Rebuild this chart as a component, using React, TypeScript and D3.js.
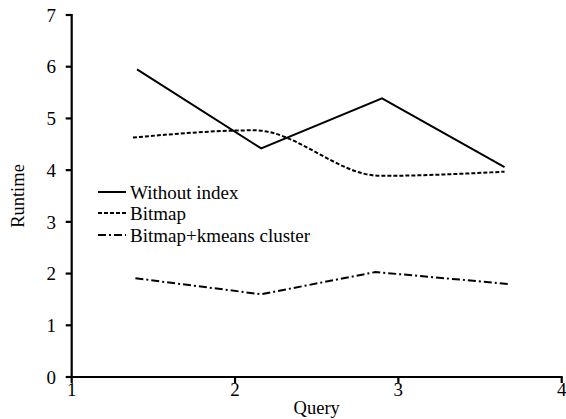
import React from "react";
import * as d3 from "d3";

const seriesNames = ["Without index", "Bitmap", "Bitmap+kmeans cluster"];
const withoutIndexX = [1.4, 2.16, 2.9, 3.65];
const withoutIndexY = [5.95, 4.42, 5.39, 4.06];
const bitmapX = [1.375, 2.12, 2.89, 3.65];
const bitmapY = [4.63, 4.77, 3.89, 3.97];
const kmeansX = [1.39, 2.16, 2.86, 3.67];
const kmeansY = [1.91, 1.6, 2.03, 1.8];
const xTicks = [1, 2, 3, 4];
const yTicks = [0, 1, 2, 3, 4, 5, 6, 7];

const W = 566;
const H = 419;
const FONT = "'Liberation Serif', 'DejaVu Serif', serif";

export default function App() {
  const x = d3.scaleLinear().domain([1, 4]).range([71.7, 561.7]);
  const y = d3.scaleLinear().domain([0, 7]).range([377, 15]);

  const series = [
    { name: seriesNames[0], xs: withoutIndexX, ys: withoutIndexY, dash: "", curve: d3.curveLinear },
    { name: seriesNames[1], xs: bitmapX, ys: bitmapY, dash: "4,2", curve: d3.curveMonotoneX },
    { name: seriesNames[2], xs: kmeansX, ys: kmeansY, dash: "8,3,2,3", curve: d3.curveLinear },
  ];

  const legendY = [192, 213, 235];

  return (
    <svg
      width={W}
      height={H}
      style={{ position: "absolute", left: 0, top: 0, background: "#fff" }}
      fontFamily={FONT}
    >
      <rect x={0} y={0} width={W} height={H} fill="#fff" />
      {series.map((s, i) => {
        const pts: [number, number][] = s.xs.map((v, j) => [x(v), y(s.ys[j])]);
        const path = d3.line().curve(s.curve)(pts) || "";
        return (
          <path
            key={i}
            d={path}
            fill="none"
            stroke="#000"
            strokeWidth={2}
            strokeDasharray={s.dash || undefined}
          />
        );
      })}
      {/* y axis */}
      <line x1={x(1)} x2={x(1)} y1={y(7) - 1} y2={y(0) + 1} stroke="#000" strokeWidth={2.2} />
      {yTicks.map((t) => (
        <g key={t}>
          <line x1={x(1) - 6} x2={x(1)} y1={y(t)} y2={y(t)} stroke="#000" strokeWidth={2.2} />
          <text x={56} y={y(t)} dy="0.35em" textAnchor="end" fontSize={19}>
            {t}
          </text>
        </g>
      ))}
      {/* x axis */}
      <line x1={x(1) - 1} x2={x(4) + 1} y1={y(0)} y2={y(0)} stroke="#000" strokeWidth={2.2} />
      {xTicks.map((t) => (
        <g key={t}>
          <line x1={x(t)} x2={x(t)} y1={y(0)} y2={y(0) + 6} stroke="#000" strokeWidth={2.2} />
          <text x={x(t)} y={396} textAnchor="middle" fontSize={19}>
            {t}
          </text>
        </g>
      ))}
      <text x={(x(1) + x(4)) / 2} y={414} textAnchor="middle" fontSize={18.5}>
        Query
      </text>
      <text
        transform={`translate(24, ${(y(0) + y(7)) / 2}) rotate(-90)`}
        textAnchor="middle"
        fontSize={18.5}
      >
        Runtime
      </text>
      {/* legend */}
      {series.map((s, i) => (
        <g key={"l" + i}>
          <line
            x1={98}
            x2={126}
            y1={legendY[i]}
            y2={legendY[i]}
            stroke="#000"
            strokeWidth={2}
            strokeDasharray={s.dash || undefined}
          />
          <text x={130} y={legendY[i]} dy="0.35em" fontSize={19}>
            {s.name}
          </text>
        </g>
      ))}
    </svg>
  );
}
